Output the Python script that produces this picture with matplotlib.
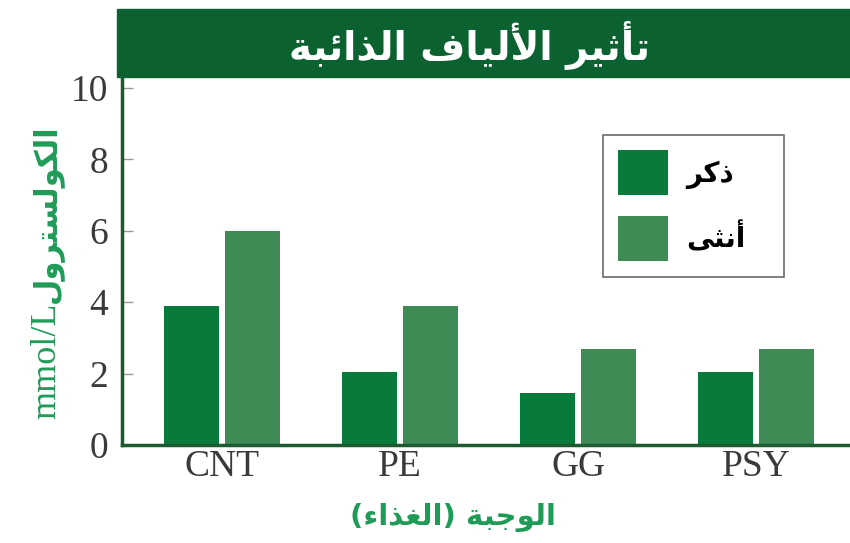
import matplotlib
matplotlib.use('Agg')
import matplotlib.pyplot as plt
from matplotlib.patches import Rectangle
import numpy as np

# data
meals = ['CNT', 'PE', 'GG', 'PSY']
male = [3.9, 2.05, 1.45, 2.05]
female = [6.0, 3.9, 2.7, 2.7]
yticks = [0, 2, 4, 6, 8, 10]

title_txt = 'تأثير الألياف الذائبة'
ylabel_ar = 'الكولسترول'
ylabel_unit = 'mmol/L'
xlabel_txt = 'الوجبة (الغذاء)'
legend_male = 'ذكر'
legend_female = 'أنثى'

# simple arabic shaping (matplotlib has no text shaping)
# letter -> (first presentation form, number of forms)
TABLE = {
    'ء': (0xFE80, 1), 'آ': (0xFE81, 2), 'أ': (0xFE83, 2), 'ؤ': (0xFE85, 2),
    'إ': (0xFE87, 2), 'ئ': (0xFE89, 4), 'ا': (0xFE8D, 2), 'ب': (0xFE8F, 4),
    'ة': (0xFE93, 2), 'ت': (0xFE95, 4), 'ث': (0xFE99, 4), 'ج': (0xFE9D, 4),
    'ح': (0xFEA1, 4), 'خ': (0xFEA5, 4), 'د': (0xFEA9, 2), 'ذ': (0xFEAB, 2),
    'ر': (0xFEAD, 2), 'ز': (0xFEAF, 2), 'س': (0xFEB1, 4), 'ش': (0xFEB5, 4),
    'ص': (0xFEB9, 4), 'ض': (0xFEBD, 4), 'ط': (0xFEC1, 4), 'ظ': (0xFEC5, 4),
    'ع': (0xFEC9, 4), 'غ': (0xFECD, 4), 'ف': (0xFED1, 4), 'ق': (0xFED5, 4),
    'ك': (0xFED9, 4), 'ل': (0xFEDD, 4), 'م': (0xFEE1, 4), 'ن': (0xFEE5, 4),
    'ه': (0xFEE9, 4), 'و': (0xFEED, 2), 'ى': (0xFEEF, 2), 'ي': (0xFEF1, 4),
}
LAM_ALEF = {'آ': 0xFEF5, 'أ': 0xFEF7, 'إ': 0xFEF9, 'ا': 0xFEFB}
MIRROR = {'(': ')', ')': '('}


def shape(text):
    out = []
    i = 0
    while i < len(text):
        c = text[i]
        if c not in TABLE:
            out.append(c)
            i += 1
            continue
        prev = text[i - 1] if i > 0 else None
        nxt = text[i + 1] if i + 1 < len(text) else None
        join_prev = prev in TABLE and TABLE[prev][1] == 4
        if c == 'ل' and nxt in LAM_ALEF:
            out.append(chr(LAM_ALEF[nxt] + (1 if join_prev else 0)))
            i += 2
            continue
        base, n = TABLE[c]
        join_next = n == 4 and nxt in TABLE
        if n == 1:
            code = base
        elif n == 2:
            code = base + (1 if join_prev else 0)
        else:
            if join_prev and join_next:
                code = base + 3
            elif join_next:
                code = base + 2
            elif join_prev:
                code = base + 1
            else:
                code = base
        out.append(chr(code))
        i += 1
    return out


def ar(text):
    chars = shape(text)[::-1]
    return ''.join(MIRROR.get(c, c) for c in chars)


c_male = '#087a3c'
c_female = '#3f8b55'
c_axis = '#1d5a30'
c_label = '#1f9b58'
c_banner = '#0b6230'

fig = plt.figure(figsize=(8.5, 5.43), dpi=100)
ax = fig.add_axes([122 / 850, 98 / 543, 728 / 850, 368 / 543])

x = np.arange(len(meals))
w = 0.31
ax.bar(x - 0.17, male, w, color=c_male, label=ar(legend_male))
ax.bar(x + 0.17, female, w, color=c_female, label=ar(legend_female))

ax.set_xlim(-0.562, 3.528)
ax.set_ylim(0, 10.31)
ax.set_yticks(yticks)
ax.set_yticklabels([str(t) for t in yticks], fontfamily='Liberation Serif',
                   fontsize=27, color='#3a3a3a')
ax.set_xticks(x)
ax.set_xticklabels(meals, fontfamily='Liberation Serif', fontsize=27, color='#3a3a3a')
ax.tick_params(axis='y', direction='in', length=8, width=1, color='#999999', pad=10)
ax.tick_params(axis='x', length=0, pad=3)

for s in ['top', 'right']:
    ax.spines[s].set_visible(False)
for s in ['left', 'bottom']:
    ax.spines[s].set_color(c_axis)
    ax.spines[s].set_linewidth(2.5)

leg = ax.legend(loc='upper left', mode='expand',
                bbox_to_anchor=(603 / 850, 1 - 275 / 543, 181 / 850, 140 / 543),
                bbox_transform=fig.transFigure, frameon=True, fancybox=False,
                handlelength=1.8, handleheight=2.12, handletextpad=0.65,
                labelspacing=0.75, borderpad=0.55, borderaxespad=0,
                prop={'family': 'DejaVu Sans', 'weight': 'bold', 'size': 20})
leg.get_frame().set_edgecolor('#444444')
leg.get_frame().set_linewidth(1.2)

# title banner
fig.patches.append(Rectangle((117 / 850, 1 - 77 / 543), 1 - 117 / 850, 68 / 543,
                             transform=fig.transFigure, color=c_banner, zorder=0))
fig.text(470 / 850, 1 - 45 / 543, ar(title_txt), color='white', fontsize=28,
         fontweight='bold', family='DejaVu Sans', ha='center', va='center')

# y label: unit in serif, arabic word in sans, joined at one point
fig.text(55 / 850, 1 - 303 / 543, ylabel_unit, rotation=90, rotation_mode='anchor',
         color=c_label, fontsize=26, family='Liberation Serif',
         ha='right', va='baseline')
fig.text(55 / 850, 1 - 303 / 543, ar(ylabel_ar), rotation=90, rotation_mode='anchor',
         color=c_label, fontsize=22, fontweight='bold', family='DejaVu Sans',
         ha='left', va='baseline')
fig.text(453 / 850, 1 - 518 / 543, ar(xlabel_txt), color=c_label, fontsize=21,
         fontweight='bold', family='DejaVu Sans', ha='center', va='center')

fig.savefig('out.png', dpi=100)
